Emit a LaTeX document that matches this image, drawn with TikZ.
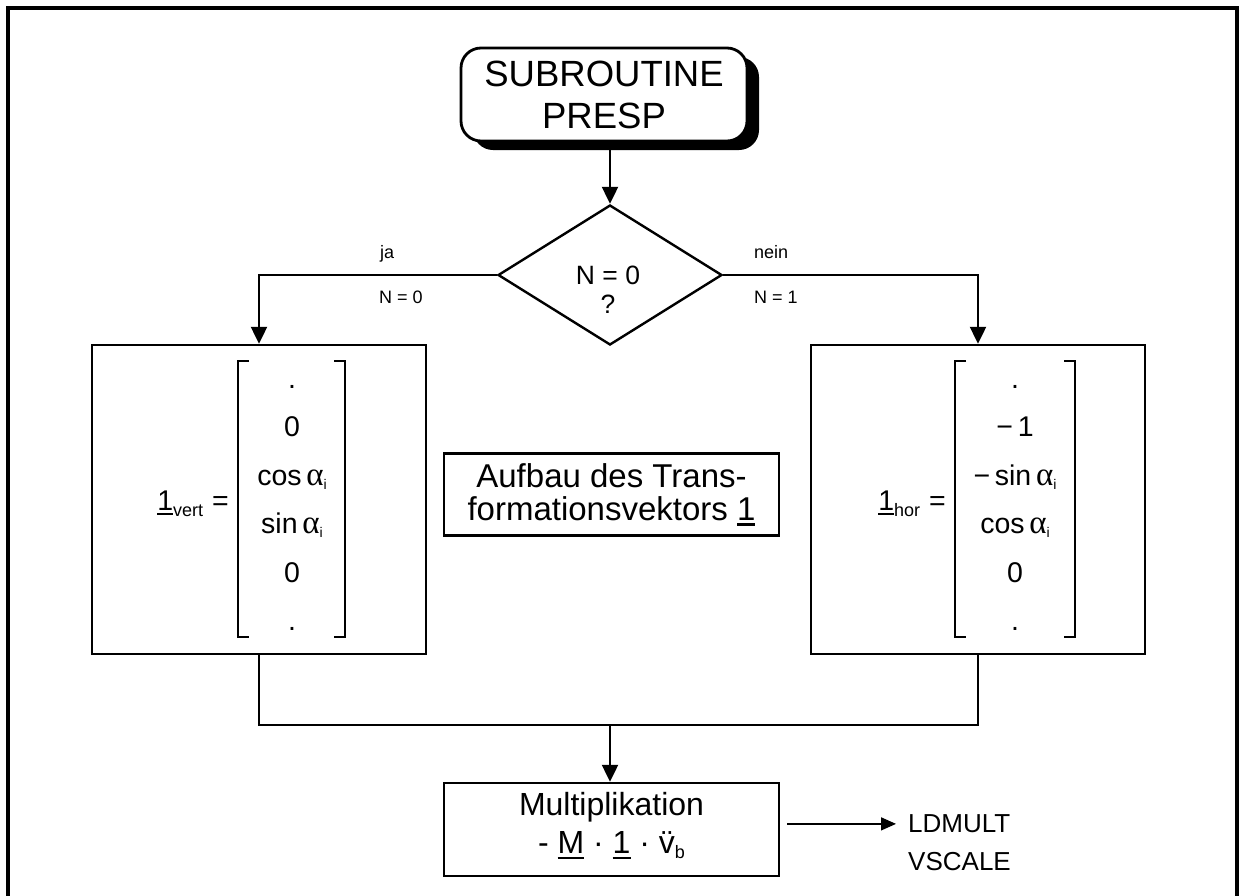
\documentclass[tikz,border=0pt]{standalone}
\usepackage{fontspec}
\setmainfont{Liberation Sans}
\newfontfamily\greekfont{Liberation Serif}
\usetikzlibrary{arrows.meta,shapes.geometric,shadows}

% font size helper, underlined vector symbol, lowered index, Greek alpha
\newcommand\fsz[2]{\fontsize{#1}{#2}\selectfont}
\newcommand\ulvec[1]{\setbox0\hbox{#1}\rlap{\rule[-0.17em]{\wd0}{0.075em}}#1}
\newcommand\lowidx[3]{\raisebox{#2}{\fontsize{#1}{#1}\selectfont #3}}
\newcommand\alphai{{\greekfont\fontsize{33}{33}\selectfont α}\lowidx{14}{-4pt}{i}}

\begin{document}
\begin{tikzpicture}[x=1pt,y=-1pt,
  frame/.style={line width=4pt},
  box/.style={draw, line width=2.4pt, inner sep=0pt, fill=white},
  link/.style={line width=2.2pt},
  flow/.style={link, -{Triangle[length=17pt,width=16pt]}},
  outflow/.style={line width=1.4pt, -{Triangle[length=15pt,width=13pt]}},
  bracket/.style={line width=2pt},
  lbl/.style={inner sep=0pt, anchor=base west, font=\fsz{18}{18}},
  entry/.style={inner sep=0pt, anchor=base, font=\fsz{28.5}{28.5}},
  lhs/.style={inner sep=0pt, anchor=base east, font=\fsz{28.5}{28.5}},
]
\useasboundingbox (0,0) rectangle (1239,895);
\fill[white] (0,0) rectangle (1239,895);

% page frame, open at the bottom
\draw[frame] (8,905) -- (8,8) -- (1237,8) -- (1237,905);

% start terminal with solid shadow
\node[draw, line width=2.8pt, rounded corners=20pt, fill=white,
      minimum width=286pt, minimum height=93pt, align=center,
      font=\fsz{36.5}{42},
      drop shadow={shadow xshift=12pt, shadow yshift=-9pt, fill=black, opacity=1}]
  (start) at (604,94.5) {SUBROUTINE\\PRESP};

% decision
\node[diamond, draw, line width=2.4pt, minimum width=224pt, minimum height=140pt,
      inner sep=0pt] (dec) at (610,275) {};
\node[inner sep=0pt, align=center, font=\fsz{26.5}{29}] (dectext) at (608,290) {N = 0\\?};

\node[lbl] (ja) at (380,258) {ja};
\node[lbl] (jacond) at (379,303) {N = 0};
\node[lbl] (nein) at (754,258) {nein};
\node[lbl] (neincond) at (754,303) {N = 1};

% branch boxes
\node[box, minimum width=334pt, minimum height=309pt] (lbox) at (259,499.5) {};
\node[box, minimum width=334pt, minimum height=309pt] (rbox) at (978,499.5) {};

% vertical vector
\node[lhs] (lname) at (229,510) {\ulvec{1}\lowidx{18}{-6pt}{vert}\hspace{9pt}=};
\draw[bracket] (249,361) -- (238,361) -- (238,637) -- (249,637);
\draw[bracket] (334,361) -- (345,361) -- (345,637) -- (334,637);
\node[entry] (l1) at (292,388) {.};
\node[entry] (l2) at (292,436) {0};
\node[entry] (l3) at (292,485) {cos\,\alphai};
\node[entry] (l4) at (292,533) {sin\,\alphai};
\node[entry] (l5) at (292,582) {0};
\node[entry] (l6) at (292,630) {.};

% horizontal vector
\node[lhs] (rname) at (946,510) {\ulvec{1}\lowidx{18}{-6pt}{hor}\hspace{9pt}=};
\draw[bracket] (966,361) -- (955,361) -- (955,637) -- (966,637);
\draw[bracket] (1064,361) -- (1075,361) -- (1075,637) -- (1064,637);
\node[entry] (r1) at (1015,388) {.};
\node[entry] (r2) at (1015,436) {−\,1};
\node[entry] (r3) at (1015,485) {−\,sin\,\alphai};
\node[entry] (r4) at (1015,533) {cos\,\alphai};
\node[entry] (r5) at (1015,582) {0};
\node[entry] (r6) at (1015,630) {.};

% caption box
\node[box, minimum width=335pt, minimum height=82pt, align=center,
      font=\fsz{33}{33}] (info) at (611.5,494.5)
  {Aufbau des Trans-\\formationsvektors \ulvec{1}};

% multiplication step
\node[box, minimum width=335pt, minimum height=93pt, align=center,
      text depth=13pt, font=\fsz{32}{38}] (mult) at (611.5,829.5)
  {Multiplikation\\- \ulvec{M} · \ulvec{1} · \"v\lowidx{18}{-5pt}{b}};

\node[inner sep=0pt, anchor=base west, font=\fsz{26}{26}] (ld) at (908,832.7) {LDMULT};
\node[inner sep=0pt, anchor=base west, font=\fsz{26}{26}] (vs) at (908,870) {VSCALE};

% connectors
\draw[flow] (dec.north |- start.south) -- (dec.north);
\draw[flow] (dec.west) -| (lbox.north);
\draw[flow] (dec.east) -| (rbox.north);
\draw[link] (lbox.south) -- ++(0,70) -| (rbox.south);
\coordinate (join) at (dec.north |- 0,725);
\draw[flow] (join) -- (join |- mult.north);
\draw[outflow, shorten <=7pt, shorten >=12pt] (mult.east |- ld.west) -- (ld.west);
\end{tikzpicture}
\end{document}
